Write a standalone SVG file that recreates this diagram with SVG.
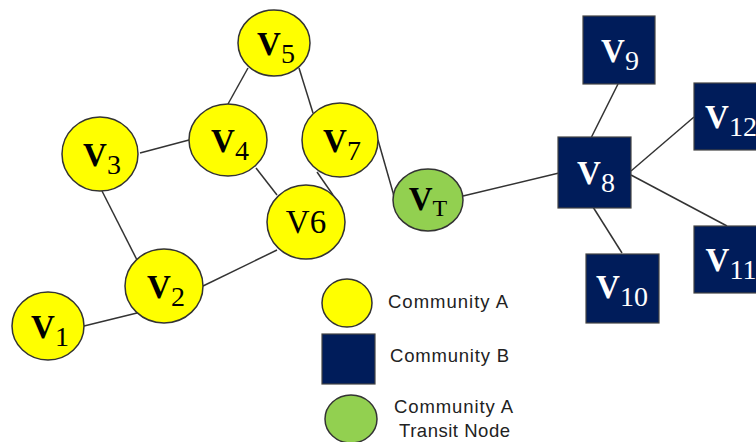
<svg xmlns="http://www.w3.org/2000/svg" width="756" height="442" viewBox="0 0 756 442">
<style>
.a{fill:#ffff00;stroke:#333;stroke-width:1.5}
.t{fill:#92d050;stroke:#333;stroke-width:1.5}
.b{fill:#001c5a;stroke:#444;stroke-width:1.2}
.e{stroke:#333;stroke-width:1.5;fill:none}
.lb{font-family:"Liberation Serif","Times New Roman",serif;font-size:33px;fill:#000;text-anchor:middle}
.lw{font-family:"Liberation Serif","Times New Roman",serif;font-size:33px;fill:#fff;text-anchor:middle}
.v{font-weight:bold}
.s{font-size:28px}
.lg{font-family:"Liberation Sans",Arial,sans-serif;font-size:18.5px;fill:#222}
</style>
<rect width="756" height="442" fill="#fff"/>
<g id="connectors">
<line class="e" x1="248" y1="68" x2="228" y2="104"/>
<line class="e" x1="299" y1="68" x2="313" y2="113"/>
<line class="e" x1="140" y1="153" x2="189" y2="140"/>
<line class="e" x1="256" y1="168" x2="277" y2="195"/>
<line class="e" x1="317" y1="172" x2="333" y2="195"/>
<line class="e" x1="102" y1="191" x2="137" y2="260"/>
<line class="e" x1="203" y1="286" x2="277" y2="250"/>
<line class="e" x1="84" y1="326" x2="137" y2="313"/>
<line class="e" x1="378" y1="140" x2="394" y2="196"/>
<line class="e" x1="463" y1="196" x2="559" y2="173"/>
<line class="e" x1="618" y1="84" x2="587" y2="146"/>
<line class="e" x1="631" y1="171" x2="694" y2="117"/>
<line class="e" x1="631" y1="175" x2="727" y2="226"/>
<line class="e" x1="593" y1="207" x2="622" y2="253"/>
</g>
<g id="v5"><ellipse class="a" cx="274" cy="43" rx="36" ry="33"/><text class="lb" x="276" y="55"><tspan class="v">V</tspan><tspan class="s" dy="8">5</tspan></text></g>
<g id="v4"><ellipse class="a" cx="228" cy="140" rx="39" ry="36"/><text class="lb" x="230" y="152"><tspan class="v">V</tspan><tspan class="s" dy="8">4</tspan></text></g>
<g id="v3"><ellipse class="a" cx="100" cy="154" rx="38" ry="37"/><text class="lb" x="102" y="166"><tspan class="v">V</tspan><tspan class="s" dy="8">3</tspan></text></g>
<g id="v7"><ellipse class="a" cx="340" cy="140" rx="38" ry="37"/><text class="lb" x="342" y="152"><tspan class="v">V</tspan><tspan class="s" dy="8">7</tspan></text></g>
<g id="v6"><ellipse class="a" cx="306" cy="222" rx="39" ry="37"/><text class="lb" x="306" y="233">V6</text></g>
<g id="v2"><ellipse class="a" cx="164" cy="286" rx="39" ry="37"/><text class="lb" x="166" y="298"><tspan class="v">V</tspan><tspan class="s" dy="8">2</tspan></text></g>
<g id="v1"><ellipse class="a" cx="48" cy="326" rx="36" ry="34"/><text class="lb" x="50" y="338"><tspan class="v">V</tspan><tspan class="s" dy="8">1</tspan></text></g>
<g id="vt"><ellipse class="t" cx="428" cy="200" rx="35" ry="31"/><text class="lb" x="428" y="210"><tspan class="v">V</tspan><tspan font-size="24" dy="6">T</tspan></text></g>
<g id="v8"><rect class="b" x="558" y="137" width="73" height="71"/><text class="lw" x="596" y="184"><tspan class="v">V</tspan><tspan class="s" dy="8">8</tspan></text></g>
<g id="v9"><rect class="b" x="583" y="16" width="72" height="68"/><text class="lw" x="620" y="62"><tspan class="v">V</tspan><tspan class="s" dy="8">9</tspan></text></g>
<g id="v12"><rect class="b" x="694" y="83" width="72" height="67"/><text class="lw" x="731" y="128"><tspan class="v">V</tspan><tspan class="s" dy="8">12</tspan></text></g>
<g id="v11"><rect class="b" x="694" y="226" width="72" height="67"/><text class="lw" x="731" y="271"><tspan class="v">V</tspan><tspan class="s" dy="8">11</tspan></text></g>
<g id="v10"><rect class="b" x="586" y="254" width="73" height="69"/><text class="lw" x="622" y="298"><tspan class="v">V</tspan><tspan class="s" dy="8">10</tspan></text></g>
<g id="legend">
<ellipse class="a" cx="347" cy="303" rx="25" ry="24"/>
<rect class="b" x="322" y="334" width="53" height="50"/>
<ellipse class="t" cx="351" cy="419" rx="26" ry="24"/>
<text class="lg" x="388" y="308" textLength="120" lengthAdjust="spacing">Community A</text>
<text class="lg" x="390" y="362" textLength="119" lengthAdjust="spacing">Community B</text>
<text class="lg" x="394" y="413" textLength="119" lengthAdjust="spacing">Community A</text>
<text class="lg" x="399" y="437" textLength="111" lengthAdjust="spacing">Transit Node</text>
</g>
</svg>
